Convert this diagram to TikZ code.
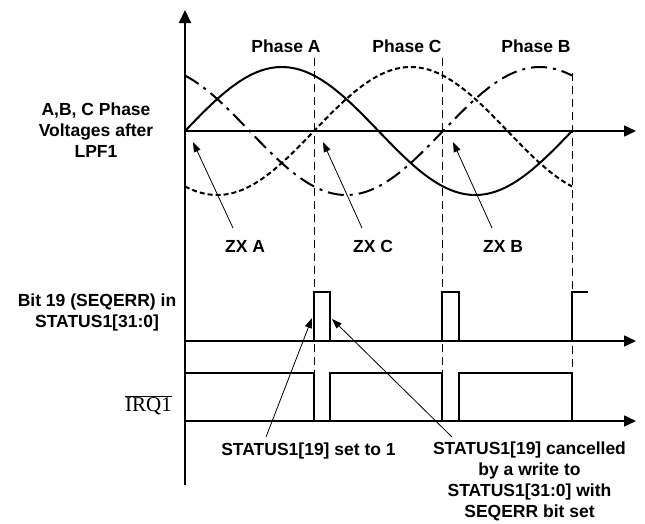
\documentclass[tikz,border=0pt]{standalone}
\usepackage{fontspec}
\setmainfont{Liberation Sans}
\newfontfamily\serifirq{Liberation Serif}
\usetikzlibrary{arrows.meta}
\begin{document}
\begin{tikzpicture}[x=1pt,y=-1pt,
  lbl/.style={font=\fontsize{17.5}{20.7}\selectfont\bfseries, inner sep=0pt, align=center},
  axisln/.style={line width=1.6pt, -{Triangle[length=12pt,width=11pt]}},
  vaxis/.style={line width=2pt, -{Triangle[length=13pt,width=12pt]}},
  wave/.style={line width=2pt},
  sig/.style={line width=1.8pt},
  guide/.style={line width=1pt, dash pattern=on 8pt off 5pt},
  leader/.style={line width=0.8pt, -{Triangle[length=10pt,width=7pt]}}]
\useasboundingbox (0,0) rectangle (645,523);

% axes
\coordinate (vbot) at (185,485); \coordinate (vtop) at (185,10);
\coordinate (o1) at (185,131); \coordinate (e1) at (636,131);
\coordinate (o2) at (185,341); \coordinate (e2) at (636,341);
\coordinate (o3) at (185,421); \coordinate (e3) at (636,421);
\draw[vaxis] (vbot) -- (vtop);
\draw[axisln] (o1) -- (e1);
\draw[axisln] (o2) -- (e2);
\draw[axisln] (o3) -- (e3);

% guides
\coordinate (gA1) at (314,58);  \coordinate (gA2) at (314,373);
\coordinate (gC1) at (442,58);  \coordinate (gC2) at (442,373);
\coordinate (gB1) at (572,73);  \coordinate (gB2) at (572,373);
\draw[guide] (gA1) -- (gA2);
\draw[guide] (gC1) -- (gC2);
\draw[guide] (gB1) -- (gB2);

% waves
\draw[wave] plot[domain=0:360,samples=120,smooth] ({185+1.075*\x},{131-64*sin(\x)});
\draw[wave, dash pattern=on 5pt off 3pt] plot[domain=0:360,samples=120,smooth] ({185+1.075*\x},{131-64*sin(\x-120)});
\draw[wave, dash pattern=on 16pt off 6pt on 3pt off 6pt] plot[domain=0:360,samples=120,smooth] ({185+1.075*\x},{131-64*sin(\x+120)});

% bit 19 pulses
\draw[sig] (314,341) -- (314,292) -- (330,292) -- (330,341);
\draw[sig] (442,341) -- (442,292) -- (459,292) -- (459,341);
\draw[sig] (572,341) -- (572,292) -- (588,292);

% IRQ1
\draw[sig] (185,373) -- (314,373) -- (314,421) -- (330,421) -- (330,373) -- (442,373)
  -- (442,421) -- (459,421) -- (459,373) -- (572,373) -- (572,421) -- (588,421);

% labels (base anchor = baseline of the last line)
\node[lbl, anchor=base] (phA) at (286,52) {Phase A};
\node[lbl, anchor=base] (phC) at (407,52) {Phase C};
\node[lbl, anchor=base] (phB) at (536,52) {Phase B};
\node[lbl, anchor=base] (volt) at (96,157) {A,B, C Phase\\Voltages after\\LPF1};
\node[lbl, anchor=base] (zxa) at (245,252) {ZX A};
\node[lbl, anchor=base] (zxc) at (373,252) {ZX C};
\node[lbl, anchor=base] (zxb) at (503,252) {ZX B};
\node[lbl, anchor=base] (bit) at (97,327) {Bit 19 (SEQERR) in\\STATUS1[31:0]};
\node[anchor=base, inner sep=0pt, font=\serifirq\fontsize{21}{24}\selectfont] (irq) at (148.5,411) {$\overline{\mbox{IRQ1}}$};
\node[lbl, anchor=base] (set1) at (308.5,455) {STATUS1[19] set to 1};
\node[lbl, anchor=base] (canc) at (529.5,517) {STATUS1[19] cancelled\\by a write to\\STATUS1[31:0] with\\SEQERR bit set};

% leaders
\coordinate (zxaS) at (233,228); \coordinate (zxaT) at (193,142);
\coordinate (zxcS) at (362,228); \coordinate (zxcT) at (323,142);
\coordinate (zxbS) at (492,228); \coordinate (zxbT) at (453,142);
\coordinate (setS) at (266,437); \coordinate (setT) at (312,318);
\coordinate (canS) at (452,437); \coordinate (canT) at (332,319);
\draw[leader] (zxaS) -- (zxaT);
\draw[leader] (zxcS) -- (zxcT);
\draw[leader] (zxbS) -- (zxbT);
\draw[leader] (setS) -- (setT);
\draw[leader] (canS) -- (canT);
\end{tikzpicture}
\end{document}
